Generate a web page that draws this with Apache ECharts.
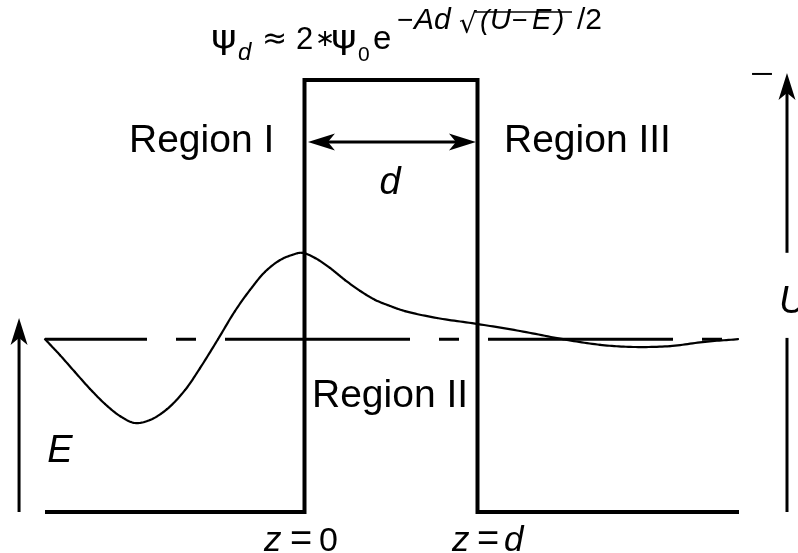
<!DOCTYPE html>
<html>
<head>
<meta charset="utf-8">
<script src="https://cdn.jsdelivr.net/npm/echarts@6/dist/echarts.min.js"></script>
<style>
  html, body { margin: 0; padding: 0; background: #fff; }
  #main { width: 798px; height: 553px; }
</style>
</head>
<body>
<div id="main"></div>
<script>
// Rectangular potential barrier: z in units of the width d, energy in units of U.
const zRange = [-1.5, 2.5];
const energyRange = [0, 1];

// Barrier outline (floor, wall at z=0, top at U, wall at z=d, floor)
const barrierZ = [-1.5, 0, 0, 1, 1, 2.53];
const barrierV = [0, 0, 1, 1, 0, 0];

// Particle energy level E
const levelZ = [-1.5, 2.5];
const levelV = [0.40, 0.40];

// Wave function, drawn around the level E
const waveZ = [-1.5, -1.413, -1.327, -1.240, -1.153, -1.066, -0.980, -0.893, -0.795, -0.691,
               -0.604, -0.500, -0.402, -0.315, -0.228, -0.142, -0.072, -0.014, 0.061, 0.147,
               0.234, 0.321, 0.408, 0.494, 0.581, 0.766, 1.003, 1.246, 1.494, 1.708,
               1.899, 2.113, 2.315, 2.506];
const waveV = [0.400, 0.363, 0.324, 0.285, 0.250, 0.222, 0.206, 0.213, 0.238, 0.282,
               0.333, 0.400, 0.465, 0.514, 0.556, 0.583, 0.595, 0.600, 0.588, 0.565,
               0.537, 0.512, 0.491, 0.477, 0.465, 0.449, 0.435, 0.419, 0.400, 0.387,
               0.382, 0.384, 0.394, 0.400];

// Annotation arrows: [z1, v1, z2, v2, heads (0 none, 1 end, 2 both), line width]
const widthArrow = [0.020, 0.8565, 0.991, 0.8565, 2, 3];
const energyArrow = [-1.65, 0, -1.65, 0.449, 1, 3];
const heightArrowLower = [2.789, 0, 2.789, 0.403, 0, 3];
const heightArrowUpper = [2.789, 0.600, 2.789, 1.016, 1, 3];
const heightTick = [2.587, 1.014, 2.702, 1.014, 0, 2];

const FONT = '"Liberation Sans", Arial, Helvetica, sans-serif';
const MATH = '"DejaVu Sans", sans-serif';

function toPairs(xs, ys) { return xs.map((x, i) => [x, ys[i]]); }

function headPoints(tip, ux, uy, len, half, notch) {
  const nx = -uy, ny = ux;
  return [
    [tip[0], tip[1]],
    [tip[0] - ux * len + nx * half, tip[1] - uy * len + ny * half],
    [tip[0] - ux * (len - notch), tip[1] - uy * (len - notch)],
    [tip[0] - ux * len - nx * half, tip[1] - uy * len - ny * half]
  ];
}

function renderArrow(params, api) {
  const a = api.coord([api.value(0), api.value(1)]);
  const b = api.coord([api.value(2), api.value(3)]);
  const heads = api.value(4);
  const lw = api.value(5);
  const dx = b[0] - a[0], dy = b[1] - a[1];
  const L = Math.sqrt(dx * dx + dy * dy);
  const ux = dx / L, uy = dy / L;
  const len = 27, half = 8.5, notch = 7;
  let s = a.slice(), e = b.slice();
  const children = [];
  if (heads >= 1) {
    children.push({ type: 'polygon', shape: { points: headPoints(b, ux, uy, len, half, notch) },
                    style: { fill: '#000' } });
    e = [b[0] - ux * (len - notch - 1), b[1] - uy * (len - notch - 1)];
  }
  if (heads >= 2) {
    children.push({ type: 'polygon', shape: { points: headPoints(a, -ux, -uy, len, half, notch) },
                    style: { fill: '#000' } });
    s = [a[0] + ux * (len - notch - 1), a[1] + uy * (len - notch - 1)];
  }
  children.unshift({ type: 'line', shape: { x1: s[0], y1: s[1], x2: e[0], y2: e[1] },
                     style: { stroke: '#000', lineWidth: lw } });
  return { type: 'group', children };
}

// Smooth wave: centripetal Catmull-Rom segment between sample i and i+1
function renderWaveSegment(params, api) {
  const i = params.dataIndex;
  const n = waveZ.length;
  if (i >= n - 1) return null;
  const P = k => api.coord([waveZ[k], waveV[k]]);
  const p1 = P(i), p2 = P(i + 1);
  const p0 = i > 0 ? P(i - 1) : [2 * p1[0] - p2[0], 2 * p1[1] - p2[1]];
  const p3 = i + 2 < n ? P(i + 2) : [2 * p2[0] - p1[0], 2 * p2[1] - p1[1]];
  const dist = (a, b) => Math.pow(Math.hypot(b[0] - a[0], b[1] - a[1]), 0.5) || 1e-4;
  const t0 = 0, t1 = t0 + dist(p0, p1), t2 = t1 + dist(p1, p2), t3 = t2 + dist(p2, p3);
  const mix = (a, b, ta, tb, t) => [
    a[0] * (tb - t) / (tb - ta) + b[0] * (t - ta) / (tb - ta),
    a[1] * (tb - t) / (tb - ta) + b[1] * (t - ta) / (tb - ta)
  ];
  const pts = [];
  const steps = 14;
  for (let k = 0; k <= steps; k++) {
    const t = t1 + (t2 - t1) * k / steps;
    const A1 = mix(p0, p1, t0, t1, t), A2 = mix(p1, p2, t1, t2, t), A3 = mix(p2, p3, t2, t3, t);
    const B1 = mix(A1, A2, t0, t2, t), B2 = mix(A2, A3, t1, t3, t);
    pts.push(mix(B1, B2, t1, t2, t));
  }
  return { type: 'polyline', shape: { points: pts },
           style: { stroke: '#000', lineWidth: 2.2, fill: null, lineCap: 'round', lineJoin: 'round' } };
}

// Text placed by its alphabetic baseline
function label(text, x, baseline, size, opts) {
  opts = opts || {};
  const el = {
    type: 'text',
    x: x,
    y: baseline - 0.31 * size,
    silent: true,
    style: {
      text: text,
      font: (opts.italic ? 'italic ' : '') + size + 'px ' + (opts.family || FONT),
      fill: '#000',
      align: opts.align || 'left',
      verticalAlign: 'middle'
    }
  };
  if (opts.stretch) el.scaleX = opts.stretch;
  return el;
}

const chart = echarts.init(document.getElementById('main'), null, { renderer: 'canvas' });

chart.setOption({
  backgroundColor: '#fff',
  animation: false,
  grid: { left: 45, right: 61, top: 80, bottom: 41 },
  xAxis: { type: 'value', min: zRange[0], max: zRange[1], show: false },
  yAxis: { type: 'value', min: energyRange[0], max: energyRange[1], show: false },
  series: [
    {
      type: 'line', data: toPairs(levelZ, levelV), symbol: 'none', clip: false,
      lineStyle: { color: '#000', width: 3, type: [185, 29, 20, 29], dashOffset: 83, cap: 'butt' }
    },
    {
      type: 'line', data: toPairs(barrierZ, barrierV), symbol: 'none', clip: false,
      lineStyle: { color: '#000', width: 4, join: 'miter' }
    },
    {
      type: 'custom', clip: false, renderItem: renderWaveSegment,
      encode: { x: 0, y: 1 },
      data: toPairs(waveZ, waveV)
    },
    {
      type: 'custom', clip: false, renderItem: renderArrow,
      encode: { x: [0, 2], y: [1, 3] },
      data: [widthArrow, energyArrow, heightArrowLower, heightArrowUpper, heightTick]
    }
  ],
  graphic: [
    // Title: psi_d ≈ 2*psi_0 e^(-Ad sqrt(U-E)/2)
    label('ψ', 211, 50, 32, { family: MATH, stretch: 1.22 }),
    label('d', 238, 61, 24, { italic: true }),
    label('≈', 262, 50, 30, { family: MATH }),
    label('2', 296, 50, 31),
    label('∗', 315, 47, 24, { family: MATH }),
    label('ψ', 331, 50, 32, { family: MATH, stretch: 1.22 }),
    label('0', 358, 62, 21),
    label('e', 373, 50, 33),
    label('−', 397, 30, 28),
    label('Ad', 414, 30, 30, { italic: true }),
    label('√', 459, 34, 28, { family: MATH }),
    label('(', 480, 30, 28, { italic: true }),
    label('U', 490, 30, 29, { italic: true }),
    label('−', 512, 30, 27),
    label('E', 532, 30, 29, { italic: true }),
    label(')', 555, 30, 28, { italic: true }),
    label('/2', 577, 30, 30),
    { type: 'line', silent: true, shape: { x1: 475, y1: 12, x2: 572, y2: 12 },
      style: { stroke: '#000', lineWidth: 1.5 } },

    label('Region I', 129, 153, 39),
    label('Region III', 504, 153, 39),
    label('Region II', 312, 408, 39),
    label('d', 390, 195, 38, { italic: true, align: 'center' }),
    label('E', 60, 463, 38, { italic: true, align: 'center' }),
    label('U', 779, 314, 38, { italic: true }),

    label('z', 264, 552, 35, { italic: true }),
    label('=', 290, 552, 38),
    label('0', 319, 552, 34),
    label('z', 452, 552, 35, { italic: true }),
    label('=', 477, 552, 38),
    label('d', 504, 552, 35, { italic: true })
  ]
});
</script>
</body>
</html>
